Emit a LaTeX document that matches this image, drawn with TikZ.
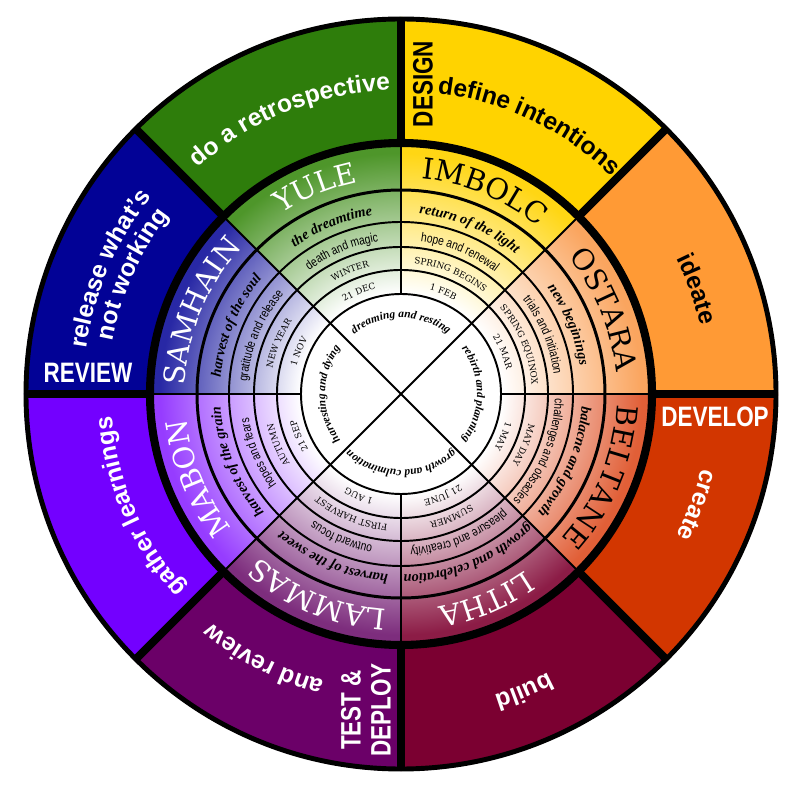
\documentclass[tikz,border=0pt]{standalone}
\usepackage{fontspec}
\usetikzlibrary{decorations.text}

\newfontfamily\outerfont{Liberation Sans}
\newfontfamily\labelfont{Liberation Sans}[FakeStretch=0.8]
\newfontfamily\namefont{DejaVu Serif}
\newfontfamily\keyfont{Liberation Sans}[FakeStretch=0.8]
\newfontfamily\phrasefont{Liberation Serif}

\definecolor{retrogreen}{RGB}{46,125,11}
\definecolor{reviewblue}{RGB}{2,2,150}
\definecolor{gatherviolet}{RGB}{115,0,255}
\definecolor{testpurple}{RGB}{107,0,104}
\definecolor{buildmaroon}{RGB}{123,0,49}
\definecolor{createred}{RGB}{210,54,0}
\definecolor{ideateorange}{RGB}{255,154,53}
\definecolor{designyellow}{RGB}{255,211,0}

\definecolor{yulegreen}{RGB}{78,150,42}
\definecolor{imbolcyellow}{RGB}{255,214,20}
\definecolor{ostaraorange}{RGB}{250,165,95}
\definecolor{beltanered}{RGB}{225,95,55}
\definecolor{lithamaroon}{RGB}{140,28,70}
\definecolor{lammaspurple}{RGB}{125,45,125}
\definecolor{mabonviolet}{RGB}{150,60,255}
\definecolor{samhainblue}{RGB}{40,40,165}

% white in the middle, full colour at the rim
\newcommand\wheelshade[2]{\pgfdeclareradialshading{#1}{\pgfpoint{0bp}{0bp}}{color(0bp)=(white); color(10bp)=(white); color(24bp)=(#2); color(50bp)=(#2)}}
\wheelshade{yuleshade}{yulegreen}
\wheelshade{imbolcshade}{imbolcyellow}
\wheelshade{ostarashade}{ostaraorange}
\wheelshade{beltaneshade}{beltanered}
\wheelshade{lithashade}{lithamaroon}
\wheelshade{lammasshade}{lammaspurple}
\wheelshade{mabonshade}{mabonviolet}
\wheelshade{samhainshade}{samhainblue}

\newcommand\outerstyle{\outerfont\bfseries\fontsize{14}{16}\selectfont}
\newcommand\namestyle{\namefont\fontsize{16.5}{18}\selectfont}
\newcommand\phrasestyle{\phrasefont\bfseries\itshape\fontsize{8.2}{9}\selectfont}
\newcommand\keystyle{\keyfont\fontsize{7.3}{8}\selectfont}
\newcommand\seasonstyle{\namefont\fontsize{5}{6}\selectfont}
\newcommand\centerstyle{\phrasefont\bfseries\itshape\fontsize{6.5}{7}\selectfont}

% radius, from angle, to angle (clockwise), format, text
\newcommand\arctext[5]{%
  \path[decorate, decoration={text along path, text align={align=center},
      text={|#4|#5}}] (#2:#1) arc[start angle=#2, end angle=#3, radius=#1];}

% from, to, name, name colour, phrase, keywords, season, date
\newcommand\sabbat[8]{%
  \arctext{216}{#1}{#2}{\namestyle\color{#4}}{#3}%
  \arctext{181}{#1}{#2}{\phrasestyle}{#5}%
  \arctext{154}{#1}{#2}{\keystyle}{#6}%
  \arctext{131}{#1}{#2}{\seasonstyle}{#7}%
  \arctext{108}{#1}{#2}{\seasonstyle}{#8}}

\begin{document}
\begin{tikzpicture}[
    x=0.02cm, y=0.02cm,
    ring/.style={line width=1.1pt},
    heavy/.style={line width=4.6pt},
    phase/.style={
      font=\labelfont\bfseries\fontsize{16}{17}\selectfont,
      inner sep=0pt,
      text=white,
      align=center,
    },
  ]
  \useasboundingbox (-401,-406) rectangle (399,394);

  \foreach \lo/\s/\o in {90/yuleshade/retrogreen, 45/imbolcshade/designyellow,
      0/ostarashade/ideateorange, -45/beltaneshade/createred,
      -90/lithashade/buildmaroon, -135/lammasshade/testpurple,
      180/mabonshade/gatherviolet, 135/samhainshade/reviewblue}{
    \begin{scope}
      \clip (0,0) -- (\lo:260) arc[start angle=\lo, end angle=\lo+45, radius=260] -- cycle;
      \shade[shading=\s] (0,0) circle (251);
    \end{scope}
    \fill[\o] (\lo:251) arc[start angle=\lo, end angle=\lo+45, radius=251]
      -- ({\lo+45}:377) arc[start angle=\lo+45, end angle=\lo, radius=377] -- cycle;
  }

  % rings and spokes
  \draw[line width=2.8pt] (0,0) circle (375);
  \draw[heavy] (0,0) circle (251);
  \foreach \a in {0,45,...,315}
    \draw[heavy] (\a:251) -- (\a:377);
  \foreach \r in {100,124,147,172}
    \draw[ring] (0,0) circle (\r);
  \draw[ring, line width=1.7pt] (0,0) circle (204);
  \foreach \a in {0,90,180,270}
    \draw[ring] (\a:100) -- (\a:251);
  \draw[ring] (45:251) -- (225:251);
  \draw[ring] (135:251) -- (-45:251);

  \sabbat{135}{90}{YULE}{white}{the dreamtime}{death and magic}{WINTER}{21 DEC}
  \sabbat{90}{45}{IMBOLC}{black}{return of the light}{hope and renewal}{SPRING BEGINS}{1 FEB}
  \sabbat{45}{0}{OSTARA}{black}{new beginings}{trials and initiation}{SPRING EQUINOX}{21 MAR}
  \sabbat{0}{-45}{BELTANE}{black}{balacne and growth}{challenges and obsacles}{MAY DAY}{1 MAY}
  \sabbat{-45}{-90}{LITHA}{white}{growth and celebration}{pleasure and creativity}{SUMMER}{21 JUNE}
  \sabbat{-90}{-135}{LAMMAS}{white}{harvest of the sweet}{outward focus}{FIRST HARVEST}{1 AUG}
  \sabbat{-135}{-180}{MABON}{white}{harvest of the grain}{hopes and fears}{AUTUMN}{21 SEP}
  \sabbat{180}{135}{SAMHAIN}{white}{harvest of the soul}{gratitude and release}{NEW YEAR}{1 NOV}

  \arctext{76}{135}{45}{\centerstyle}{dreaming and resting}
  \arctext{76}{45}{-45}{\centerstyle}{rebirth and planning}
  \arctext{76}{-45}{-135}{\centerstyle}{growth and culmination}
  \arctext{76}{225}{135}{\centerstyle}{harvesting and dying}

  \arctext{304}{134.5}{89.5}{\outerstyle\color{white}}{do a retrospective}
  \arctext{303}{87}{42}{\outerstyle}{define intentions}
  \arctext{307}{42}{-3}{\outerstyle}{ideate}
  \arctext{310}{1.9}{-43.1}{\outerstyle\color{white}}{create}
  \arctext{315}{-45}{-90}{\outerstyle\color{white}}{build}
  \arctext{297}{-94.8}{-139.8}{\outerstyle\color{white}}{and review}
  \arctext{290}{-134.2}{-179.2}{\outerstyle\color{white}}{gather learnings}
  \arctext{318}{179.2}{134.2}{\outerstyle\color{white}}{release what’s}
  \arctext{293}{178.5}{133.5}{\outerstyle\color{white}}{not working}

  \node[phase, rotate=90, text=black] (design) at (22,310) {DESIGN};
  \node[phase] (review) at (-313,21) {REVIEW};
  \node[phase] (develop) at (314,-23) {DEVELOP};
  \node[phase, rotate=90] (test) at (-35,-316) {TEST \&\\DEPLOY};
\end{tikzpicture}
\end{document}
